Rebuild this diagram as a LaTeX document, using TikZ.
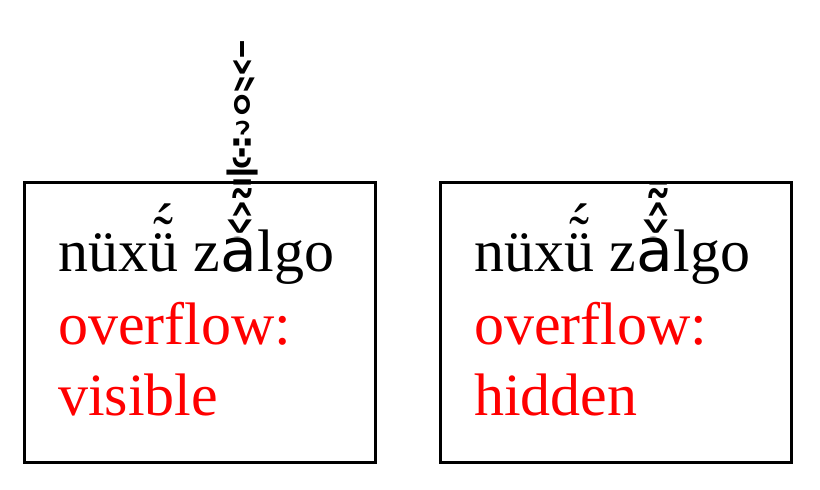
\documentclass[tikz,border=0pt]{standalone}
\usepackage{fontspec}
\setmainfont{Liberation Serif}
\newfontfamily\marksfont{DejaVu Sans}
\newcommand{\zalgoa}{{\marksfont a^^^^0300^^^^0301^^^^0302^^^^0303^^^^0304^^^^0305^^^^0306^^^^0307^^^^0308^^^^0309^^^^030a^^^^030b^^^^030c^^^^030d}}
\newcommand{\stackedu}{\ooalign{ü\cr\hidewidth\raisebox{0.23em}{\char"02DC}\hidewidth\cr\hidewidth\kern0.05em\raisebox{0.42em}{\char"00B4}\hidewidth\cr}}
\begin{document}
\begin{tikzpicture}[x=1pt,y=-1pt]
\tikzset{
  framebox/.style={draw,line width=3pt,minimum width=351pt,minimum height=280pt,inner sep=0pt},
  linetext/.style={anchor=base west,inner sep=0pt,font=\fontsize{60}{72}\selectfont},
  redtext/.style={linetext,text=red},
  markstack/.style={linetext,yscale=1.2,transform shape}
}
\useasboundingbox (0,0) rectangle (820,490);

% overflow visible
\node[framebox] (visbox) at (200,322.5) {};
\node[linetext] (visfront) at (58,271) {nüx\stackedu{} z};
\node[linetext] (visa) at (visfront.base east) {\marksfont a};
\node[linetext] (visback) at (visa.base east) {lgo};
\begin{scope}
\clip ([yshift=1pt]visa.north west) rectangle ([xshift=40pt]visa.north east |- 0,0);
\node[markstack] (vismarks) at ([yshift=-6.6pt]visa.base west) {\zalgoa};
\end{scope}
\node[redtext] (vismid) at (58,344) {overflow:};
\node[redtext] (visbot) at (58,415) {visible};

% overflow hidden
\node[framebox] (hidbox) at (616,322.5) {};
\begin{scope}
\clip ([xshift=1.5pt,yshift=-1.5pt]hidbox.north west) rectangle ([xshift=-1.5pt,yshift=1.5pt]hidbox.south east);
\node[linetext] (hidfront) at (474,271) {nüx\stackedu{} z};
\node[linetext] (hida) at (hidfront.base east) {\marksfont a};
\node[linetext] (hidback) at (hida.base east) {lgo};
\begin{scope}
\clip ([yshift=1pt]hida.north west) rectangle ([xshift=40pt]hida.north east |- 0,0);
\node[markstack] (hidmarks) at ([yshift=-6.6pt]hida.base west) {\zalgoa};
\end{scope}
\node[redtext] (hidmid) at (474,344) {overflow:};
\node[redtext] (hidbot) at (474,415) {hidden};
\end{scope}
\end{tikzpicture}
\end{document}
